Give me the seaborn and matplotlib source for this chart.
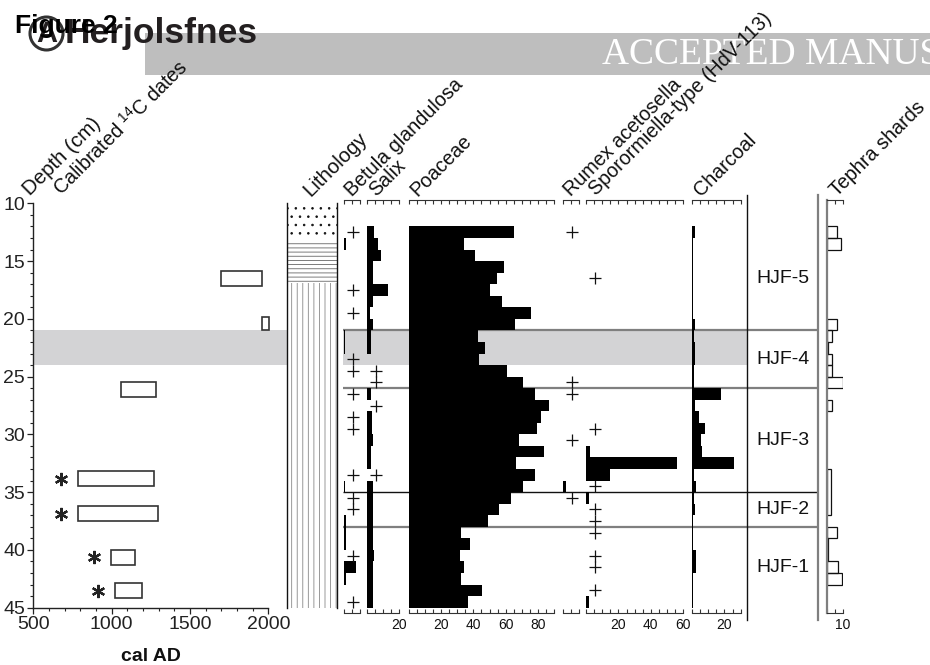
import numpy as np
import pandas as pd
import matplotlib
matplotlib.use("Agg")
import matplotlib.pyplot as plt
import seaborn as sns
from matplotlib.transforms import offset_copy
from matplotlib.patches import Rectangle, Ellipse
from matplotlib.ticker import MultipleLocator

# ---------------- data ----------------
sample_top = list(range(12, 45))            # 1-cm slices 12-13 ... 44-45 cm
betula = [0, 1.5, 0, 0, 0, 0, 0, 0, 0, 0.8, 0.8, 0, 0, 0, 0, 0, 0, 0, 0, 0, 0, 0,
          0.8, 0, 0, 1.5, 1.5, 1.5, 0, 7.5, 1.5, 0, 0]
betula_plus = [12, 17, 19, 23, 24, 26, 28, 29, 33, 35, 36, 40, 44]
salix = [4.5, 6.5, 8.5, 4, 4, 13, 3.5, 2, 3.5, 2.5, 2.5, 0, 0, 0, 2.5, 0, 3, 3, 3.5,
         2.5, 2.5, 0, 4, 4, 4, 4, 3.5, 3.5, 4.5, 3.5, 3.5, 3.5, 3.5]
salix_plus = [24, 25, 27, 33]
poaceae = [65, 34.5, 41, 59, 54.5, 50, 57.5, 75.5, 65.5, 43, 47, 43.5, 61, 70.5, 78,
           87, 82, 79.5, 68, 83.5, 66.5, 78, 70.5, 63, 56, 49, 32.5, 38, 32, 34, 32.5,
           45.5, 37]
rumex = [0, 0, 0, 0, 0, 0, 0, 0, 0, 0, 0, 0, 0, 0, 0, 0, 0, 0, 0, 0, 0, 0,
         2, 0, 0, 0, 0, 0, 0, 0, 0, 0, 0]
rumex_plus = [12, 25, 26, 30, 35]
sporormiella = [0, 0, 0, 0, 0, 0, 0, 0, 0, 0, 0, 0, 0, 0, 0, 0, 0, 0, 0,
                2.5, 56, 15, 0, 2, 0, 0, 0, 0, 0, 0, 0, 0, 2]
sporormiella_plus = [16, 29, 34, 36, 37, 38, 40, 41, 43]
charcoal = [1.8, 0.6, 0.6, 0.6, 0.5, 0.5, 0.6, 0.6, 1.7, 1.2, 1.6, 1.6, 1.2, 1.2, 18,
            2, 4.5, 8, 5.5, 6, 26, 1.5, 2.3, 1, 1.6, 0.5, 0.5, 0.5, 2.3, 2.3, 0.8,
            0.5, 0.5]

tephra_top = [12, 13, 20, 21, 22, 23, 24, 25, 27, 33, 38, 39, 41, 42]
tephra_bottom = [13, 14, 21, 22, 23, 24, 25, 26, 28, 37, 39, 41, 42, 43]
tephra_value = [6.2, 8.6, 6.6, 3.1, 1.0, 3.1, 3.1, 10.3, 3.1, 2.5, 6.6, 1.0, 7.2, 9.3]

date_top = [15.9, 19.8, 25.5, 33.2, 36.2, 40.0, 42.9]
date_bottom = [17.2, 21.0, 26.8, 34.5, 37.5, 41.3, 44.2]
date_start = [1700, 1958, 1060, 787, 787, 994, 1023]
date_end = [1957, 2006, 1283, 1270, 1298, 1151, 1192]
date_flag = [False, False, False, True, True, True, True]

lith_top = [10, 13.2, 16.9]
lith_bottom = [13.2, 16.9, 45]
lith_hatch = ['..', '----', '|||']
lith_color = ['#111111', '#666666', '#888888']

zone_bounds = [12, 21, 26, 35, 38, 45]
zone_names = ['HJF-5', 'HJF-4', 'HJF-3', 'HJF-2', 'HJF-1']
zone_lines = [21, 26, 35, 38]
zone_line_colors = ['#7f7f7f', '#7f7f7f', '#111111', '#7f7f7f']
zone_line_widths = [1.6, 1.6, 1.0, 1.6]
shade_range = (21, 24)

# ---------------- style ----------------
sns.set_theme(style="ticks", context="notebook")
plt.rcParams['font.family'] = ['Liberation Sans', 'DejaVu Sans']
plt.rcParams['hatch.linewidth'] = 0.6
plt.rcParams['axes.linewidth'] = 0.9

W, H = 930, 665
fig = plt.figure(figsize=(W / 100, H / 100), dpi=100)
fig.patch.set_facecolor('white')

Y10, Y45 = 203.3, 607.7
PXCM = (Y45 - Y10) / 35.0
PPU = 1.62      # pixels per percent unit in the pollen panels


def y2d(y):
    return 10 + (y - Y10) / PXCM


def add_ax(x0, x1, y0, y1):
    return fig.add_axes([x0 / W, 1 - y1 / H, (x1 - x0) / W, (y1 - y0) / H])


df = pd.DataFrame({'top': sample_top})
df['mid'] = df['top'] + 0.5
df['betula'] = betula
df['salix'] = salix
df['poaceae'] = poaceae
df['rumex'] = rumex
df['sporormiella'] = sporormiella
df['charcoal'] = charcoal
edges = sample_top + [sample_top[-1] + 1]

# ---------------- background: shading + zone lines ----------------
BG_X0, BG_X1 = 33.3, 818.3
bg = add_ax(BG_X0, BG_X1, Y10, Y45)
bg.set_xlim(BG_X0, BG_X1)
bg.set_ylim(45, 10)
bg.axis('off')


def frac(x):
    return (x - BG_X0) / (BG_X1 - BG_X0)


for a, b in [(33.3, 287.3), (343, 747)]:
    bg.axhspan(shade_range[0], shade_range[1], xmin=frac(a), xmax=frac(b),
               color='#d3d3d5', lw=0, zorder=0)
bg.hlines(zone_lines, 343, BG_X1, colors=zone_line_colors,
          linewidths=zone_line_widths, zorder=1)

# ---------------- date panel ----------------
ad = add_ax(33.3, 268.3, Y10, Y45)
ad.patch.set_visible(False)
ad.set_xlim(500, 2000)
ad.set_ylim(45, 10)
widths = [e - s for s, e in zip(date_start, date_end)]
heights = [b - t for t, b in zip(date_top, date_bottom)]
bars = ad.barh(date_top, widths, left=date_start, height=heights, align='edge',
               fill=False, edgecolor='#333333', linewidth=1.2)
for r in bars:
    r.set_clip_on(False)
flag_x = [s for s, f in zip(date_start, date_flag) if f]
flag_y = [(t + b) / 2 for t, b, f in zip(date_top, date_bottom, date_flag) if f]
ad.plot(flag_x, flag_y, ls='none', marker=(6, 2, 0), ms=9.5, mew=1.6, color='#222222',
        transform=offset_copy(ad.transData, fig=fig, x=-17, y=0, units='dots'))
for s in ['top', 'right']:
    ad.spines[s].set_visible(False)
for s in ['left', 'bottom']:
    ad.spines[s].set_color('#222222')
    ad.spines[s].set_linewidth(1.0)
ad.set_yticks(range(10, 46, 5))
ad.yaxis.set_minor_locator(MultipleLocator(1))
ad.set_xticks([500, 1000, 1500, 2000])
ad.xaxis.set_minor_locator(MultipleLocator(100))
ad.tick_params(which='major', direction='out', length=4, width=0.9, labelsize=14,
               pad=2, colors='#222222', left=True, bottom=True)
ad.tick_params(which='minor', direction='out', length=2.5, width=0.8,
               colors='#222222', left=True, bottom=True)
ad.set_xlabel('cal AD', fontsize=14, fontweight='bold', labelpad=11, color='#111111')
ad.set_ylabel('')

# ---------------- lithology ----------------
al = add_ax(287.3, 336.7, Y10, Y45)
al.set_xlim(0, 1)
al.set_ylim(45, 10)
al.patch.set_facecolor('white')
for t, b, h, c in zip(lith_top, lith_bottom, lith_hatch, lith_color):
    al.barh(t, 1, left=0, height=b - t, align='edge', color='white',
            edgecolor=c, hatch=h, linewidth=0)
for s in ['top', 'bottom']:
    al.spines[s].set_visible(False)
for s in ['left', 'right']:
    al.spines[s].set_color('#111111')
    al.spines[s].set_linewidth(1.0)
al.set_xticks([])
al.set_yticks([])

# ---------------- pollen / proxy panels ----------------
PT, PB = 200.0, 612.7
panels = [
    ('betula', 344.0, 10, [], betula_plus),
    ('salix', 367.0, 20, [20], salix_plus),
    ('poaceae', 408.5, 90, [20, 40, 60, 80], []),
    ('rumex', 562.5, 10, [], rumex_plus),
    ('sporormiella', 586.0, 60, [20, 40, 60], sporormiella_plus),
    ('charcoal', 692.0, 30, [20], []),
]


def style_scale(ax, xmax, labels):
    ax.patch.set_visible(False)
    ax.set_xlim(0, xmax)
    ax.set_ylim(y2d(PB), y2d(PT))
    for s in ['left', 'right']:
        ax.spines[s].set_visible(False)
    for s in ['top', 'bottom']:
        ax.spines[s].set_color('#333333')
        ax.spines[s].set_linewidth(0.8)
    ticks = list(range(0, xmax + 1, 5))
    ax.set_xticks(ticks)
    ax.set_xticklabels([str(t) if t in labels else '' for t in ticks])
    ax.tick_params(axis='x', top=True, bottom=True, labeltop=False, labelbottom=True,
                   direction='in', length=3, width=0.8, labelsize=10, pad=4,
                   colors='#333333', labelcolor='#111111')
    ax.tick_params(axis='y', left=False, right=False, labelleft=False)
    ax.set_xlabel('')
    ax.set_ylabel('')


for col, x0, xmax, labels, plus in panels:
    ax = add_ax(x0, x0 + xmax * PPU, PT, PB)
    sns.histplot(data=df, y='mid', weights=col, bins=edges, ax=ax, color='black',
                 alpha=1, linewidth=0, fill=True, element='bars')
    if plus:
        ax.plot([0] * len(plus), [p + 0.5 for p in plus], ls='none', marker='+',
                ms=9, mew=0.9, color='#111111',
                transform=offset_copy(ax.transData, fig=fig, x=9, y=0, units='dots'))
    style_scale(ax, xmax, labels)

# tephra shards (open bars)
at = add_ax(826.7, 826.7 + 10 * PPU, PT, PB)
at.barh(tephra_top, tephra_value, left=0,
        height=[b - t for t, b in zip(tephra_top, tephra_bottom)], align='edge',
        fill=False, edgecolor='#111111', linewidth=0.9)
style_scale(at, 10, [10])
at.spines['left'].set_visible(True)
at.spines['left'].set_color('#7f7f7f')
at.spines['left'].set_linewidth(1.6)

# ---------------- zone column ----------------
az = add_ax(746.7, 818.3, 195, 620)
az.patch.set_visible(False)
az.set_xlim(0, 1)
az.set_ylim(y2d(620), y2d(195))
for s in ['top', 'bottom']:
    az.spines[s].set_visible(False)
az.spines['left'].set_color('#111111')
az.spines['left'].set_linewidth(1.0)
az.spines['right'].set_color('#7f7f7f')
az.spines['right'].set_linewidth(1.6)
az.set_xticks([])
az.set_yticks([])
for name, a, b in zip(zone_names, zone_bounds[:-1], zone_bounds[1:]):
    az.text(0.5, (a + b) / 2, name, ha='center', va='center', fontsize=14,
            color='#111111')

# ---------------- column headers ----------------
headers = [
    (30, 196, 'Depth (cm)', 14.8),
    (61, 196, 'Calibrated $^{\\mathregular{14}}$C dates', 14.2),
    (311, 197, 'Lithology', 14.8),
    (352, 197, 'Betula glandulosa', 14.2),
    (376, 197, 'Salix', 14.2),
    (417, 197, 'Poaceae', 14.2),
    (571, 197, 'Rumex acetosella', 14.2),
    (596, 196, 'Sporormiella-type (HdV-113)', 14.2),
    (701, 197, 'Charcoal', 14.2),
    (837, 197, 'Tephra shards', 14.2),
]
for x, y, label, fs in headers:
    fig.text(x / W, 1 - y / H, label, rotation=45, rotation_mode='anchor',
             ha='left', va='baseline', fontsize=fs, color='#111111', zorder=5)

# ---------------- title area ----------------
fig.patches.append(Rectangle((145 / W, 1 - 75 / H), (W - 145) / W, 42 / H,
                             transform=fig.transFigure, facecolor='#bebebe',
                             edgecolor='none', zorder=0.5))
fig.text(602 / W, 1 - 64 / H, 'ACCEPTED MANUSCRIPT', fontsize=27,
         family=['Liberation Serif', 'DejaVu Serif'], color='white',
         va='baseline', ha='left', zorder=1)
fig.patches.append(Ellipse((46.5 / W, 1 - 33.5 / H), 33 / W, 33 / H,
                           transform=fig.transFigure, facecolor='none',
                           edgecolor='#333333', linewidth=2.2, zorder=2))
fig.text(46.5 / W, 1 - 33.5 / H, 'A', fontsize=21, fontweight='bold', ha='center',
         va='center', color='#231f20', zorder=3)
fig.text(65 / W, 1 - 43 / H, 'Herjolsfnes', fontsize=25.5, fontweight='bold',
         color='#231f20', va='baseline', ha='left', zorder=3)
fig.text(15 / W, 1 - 33 / H, 'Figure 2', fontsize=19, fontweight='bold',
         color='black', va='baseline', ha='left', zorder=4)

fig.savefig('out.png', dpi=100, facecolor='white')
